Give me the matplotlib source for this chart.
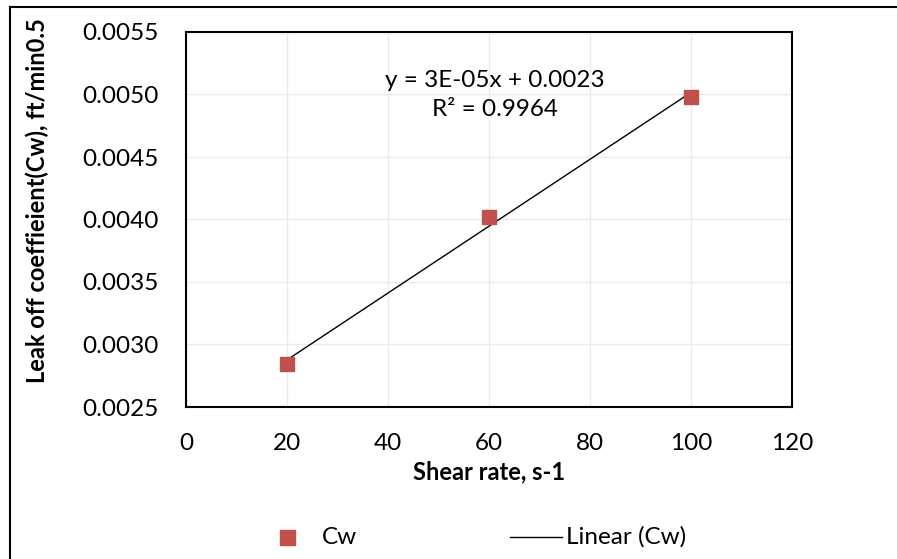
import numpy as np
import matplotlib.pyplot as plt
from matplotlib.lines import Line2D
from matplotlib.patches import Rectangle

shear_rate = [20, 60, 100]
cw = [0.00284, 0.00402, 0.00498]
x_ticks = [0, 20, 40, 60, 80, 100, 120]
y_ticks = [0.0025, 0.0030, 0.0035, 0.0040, 0.0045, 0.0050, 0.0055]

plt.rcParams['font.family'] = ['Lato', 'DejaVu Sans']

fig = plt.figure(figsize=(8.97, 5.59), dpi=100)
ax = fig.add_axes([186 / 897, 1 - 407 / 559, 606 / 897, 375 / 559])

# outer chart border (top and left only visible)
fig.add_artist(Line2D([10 / 897, 1], [1 - 7 / 559, 1 - 7 / 559], color='black', lw=1.5))
fig.add_artist(Line2D([10 / 897, 10 / 897], [0, 1 - 7 / 559], color='black', lw=1.5))

# trendline
k, b = np.polyfit(shear_rate, cw, 1)
xs = np.array([shear_rate[0], shear_rate[-1]])
ax.plot(xs, k * xs + b, color='black', lw=1, zorder=2)
ax.plot(shear_rate, cw, 's', color='#c0504d', markersize=10.5, zorder=3)

ax.set_xlim(0, 120)
ax.set_ylim(0.0025, 0.0055)
ax.set_xticks(x_ticks)
ax.set_yticks(y_ticks)
ax.set_yticklabels(['%.4f' % v for v in y_ticks])
ax.tick_params(length=0, labelsize=17.5)
ax.tick_params(axis='x', pad=19)
ax.tick_params(axis='y', pad=20)
ax.grid(True, color='#ebebeb', lw=1)
ax.set_axisbelow(True)
for s in ax.spines.values():
    s.set_color('black')
    s.set_linewidth(1.5)

ax.set_xlabel('Shear rate, s-1', fontsize=17, fontweight='bold', labelpad=4)
ax.set_ylabel('Leak off coeffieient(Cw), ft/min0.5', fontsize=17, fontweight='bold')
ax.yaxis.set_label_coords(-0.226, 0.55)

ax.text(0.51, 0.765, 'y = 3E-05x + 0.0023\nR² = 0.9964', transform=ax.transAxes,
        ha='center', va='bottom', fontsize=17.5, linespacing=1.5)

# legend at bottom
fig.add_artist(Rectangle((280 / 897, 1 - 545 / 559), 15 / 897, 15 / 559,
                         color='#c0504d', transform=fig.transFigure))
fig.text(322 / 897, 1 - 537 / 559, 'Cw', fontsize=17.5, va='center')
fig.add_artist(Line2D([510 / 897, 562 / 897], [1 - 537 / 559, 1 - 537 / 559], color='black', lw=1))
fig.text(566 / 897, 1 - 537 / 559, 'Linear (Cw)', fontsize=17.5, va='center')

fig.savefig('out.png', dpi=100)
